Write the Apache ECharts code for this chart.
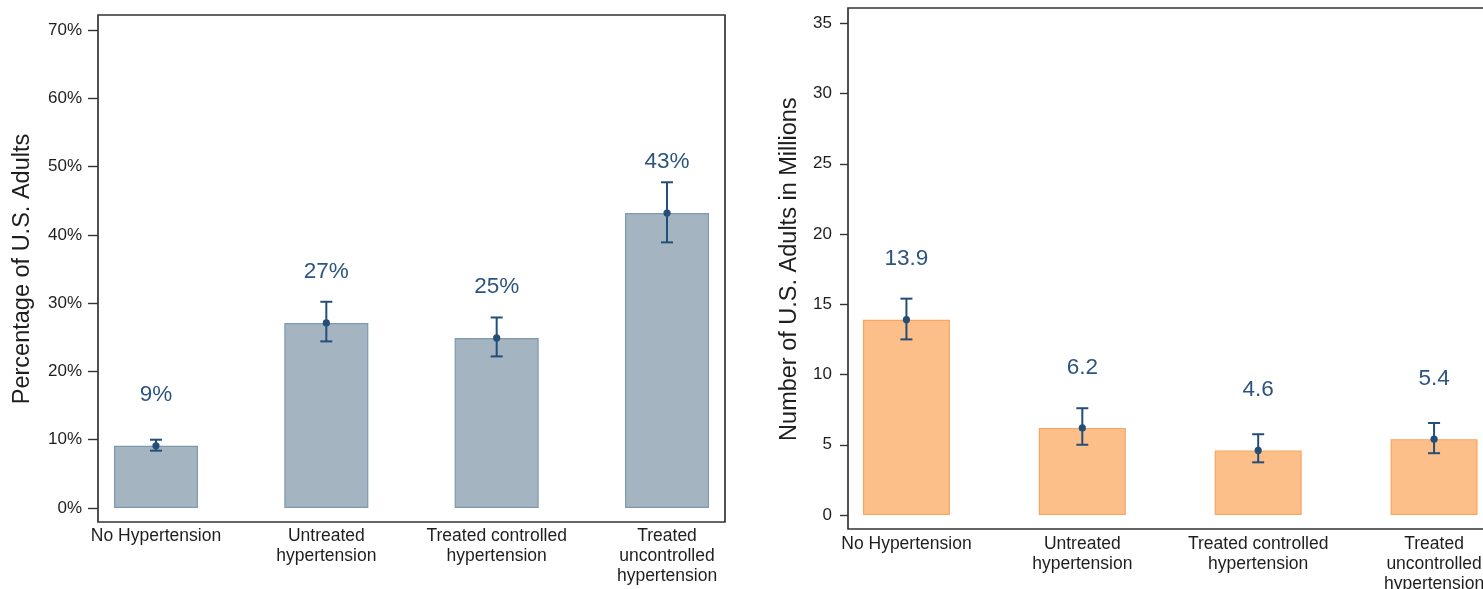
<!DOCTYPE html>
<html>
<head>
<meta charset="utf-8">
<script src="https://cdn.jsdelivr.net/npm/echarts@6/dist/echarts.min.js"></script>
<style>
html,body{margin:0;padding:0;background:#fff;overflow:hidden;width:1483px;height:589px;}
#c{width:1600px;height:589px;}
</style>
</head>
<body>
<div id="c"></div>
<script>
const categories = ['No Hypertension', 'Untreated\nhypertension', 'Treated controlled\nhypertension', 'Treated\nuncontrolled\nhypertension'];
const pctValues = [9.1, 27.1, 24.9, 43.2];
const pctLow = [8.4, 24.4, 22.2, 38.9];
const pctHigh = [10.0, 30.2, 27.9, 47.7];
const millionValues = [13.9, 6.2, 4.6, 5.4];
const millionLow = [12.5, 5.0, 3.75, 4.4];
const millionHigh = [15.4, 7.6, 5.75, 6.55];
const pctTicks = {min: 0, max: 70, interval: 10};
const millionTicks = {min: 0, max: 35, interval: 5};

const FONT = '"Liberation Sans", Arial, Helvetica, sans-serif';
const NAVY = '#234e78';
const chart = echarts.init(document.getElementById('c'), null, {renderer: 'canvas'});

function errData(lo, hi, val) {
  return categories.map((c, i) => [i, lo[i], hi[i], val[i]]);
}
function errRender(params, api) {
  const x = api.value(0);
  const pLo = api.coord([x, api.value(1)]);
  const pHi = api.coord([x, api.value(2)]);
  const pV = api.coord([x, api.value(3)]);
  const cap = 6;
  const st = {stroke: NAVY, lineWidth: 2, fill: null};
  return {
    type: 'group',
    children: [
      {type: 'line', shape: {x1: pLo[0], y1: pLo[1], x2: pHi[0], y2: pHi[1]}, style: st},
      {type: 'line', shape: {x1: pLo[0] - cap, y1: pLo[1], x2: pLo[0] + cap, y2: pLo[1]}, style: st},
      {type: 'line', shape: {x1: pHi[0] - cap, y1: pHi[1], x2: pHi[0] + cap, y2: pHi[1]}, style: st},
      {type: 'circle', shape: {cx: pV[0], cy: pV[1], r: 3.6}, style: {fill: NAVY}}
    ]
  };
}

const xLabel = {
  color: '#1e1e1e', fontSize: 17.5, fontFamily: FONT, lineHeight: 20, interval: 0
};

chart.setOption({
  backgroundColor: '#fff',
  animation: false,
  grid: [
    {left: 98, top: 15, width: 627, height: 507, show: true, borderColor: '#333', borderWidth: 1.7, backgroundColor: 'transparent', outerBoundsMode: 'none'},
    {left: 70.8, top: 30, width: 681.4, height: 478, outerBoundsMode: 'none'},
    {left: 848, top: 8, width: 700, height: 521, show: true, borderColor: '#333', borderWidth: 1.7, backgroundColor: 'transparent', outerBoundsMode: 'none'},
    {left: 818.5, top: 23.3, width: 703.5, height: 491.7, outerBoundsMode: 'none'}
  ],
  xAxis: [
    {gridIndex: 1, type: 'category', data: categories, boundaryGap: true,
     axisLine: {show: false}, axisTick: {show: false},
     axisLabel: Object.assign({margin: 18}, xLabel)},
    {gridIndex: 3, type: 'category', data: categories, boundaryGap: true,
     axisLine: {show: false}, axisTick: {show: false},
     axisLabel: Object.assign({margin: 19}, xLabel)}
  ],
  yAxis: [
    {gridIndex: 1, type: 'value', min: pctTicks.min, max: pctTicks.max, interval: pctTicks.interval,
     offset: -27.2,
     name: 'Percentage of U.S. Adults', nameLocation: 'middle', nameGap: 63,
     nameTextStyle: {color: '#1e1e1e', fontSize: 23.5, fontFamily: FONT},
     axisLine: {show: false},
     axisTick: {show: true, length: 10, lineStyle: {color: '#333', width: 1.4}},
     splitLine: {show: false},
     axisLabel: {color: '#1e1e1e', fontSize: 17, fontFamily: FONT, margin: 16, formatter: v => v + '%'}},
    {gridIndex: 3, type: 'value', min: millionTicks.min, max: millionTicks.max, interval: millionTicks.interval,
     offset: -29.5,
     name: 'Number of U.S. Adults in Millions', nameLocation: 'middle', nameGap: 46,
     nameTextStyle: {color: '#1e1e1e', fontSize: 23.5, fontFamily: FONT},
     axisLine: {show: false},
     axisTick: {show: true, length: 8, lineStyle: {color: '#333', width: 1.4}},
     splitLine: {show: false},
     axisLabel: {color: '#1e1e1e', fontSize: 17, fontFamily: FONT, margin: 16}}
  ],
  series: [
    {type: 'bar', xAxisIndex: 0, yAxisIndex: 0, data: pctValues, barWidth: 84,
     itemStyle: {color: '#a4b5c1', borderColor: '#7f98ad', borderWidth: 1.2},
     label: {show: true, position: 'top', distance: 40, color: '#2b5480', fontSize: 22.5, fontFamily: FONT,
       formatter: p => Math.round(p.value) + '%'}},
    {type: 'custom', xAxisIndex: 0, yAxisIndex: 0, data: errData(pctLow, pctHigh, pctValues),
     renderItem: errRender, z: 5},
    {type: 'bar', xAxisIndex: 1, yAxisIndex: 1, data: millionValues, barWidth: 87,
     itemStyle: {color: '#fdbf8a', borderColor: '#f9a55e', borderWidth: 1.2},
     label: {show: true, position: 'top', distance: 49, color: '#2b5480', fontSize: 22.5, fontFamily: FONT,
       formatter: p => p.value.toFixed(1)}},
    {type: 'custom', xAxisIndex: 1, yAxisIndex: 1, data: errData(millionLow, millionHigh, millionValues),
     renderItem: errRender, z: 5}
  ]
});
</script>
</body>
</html>
